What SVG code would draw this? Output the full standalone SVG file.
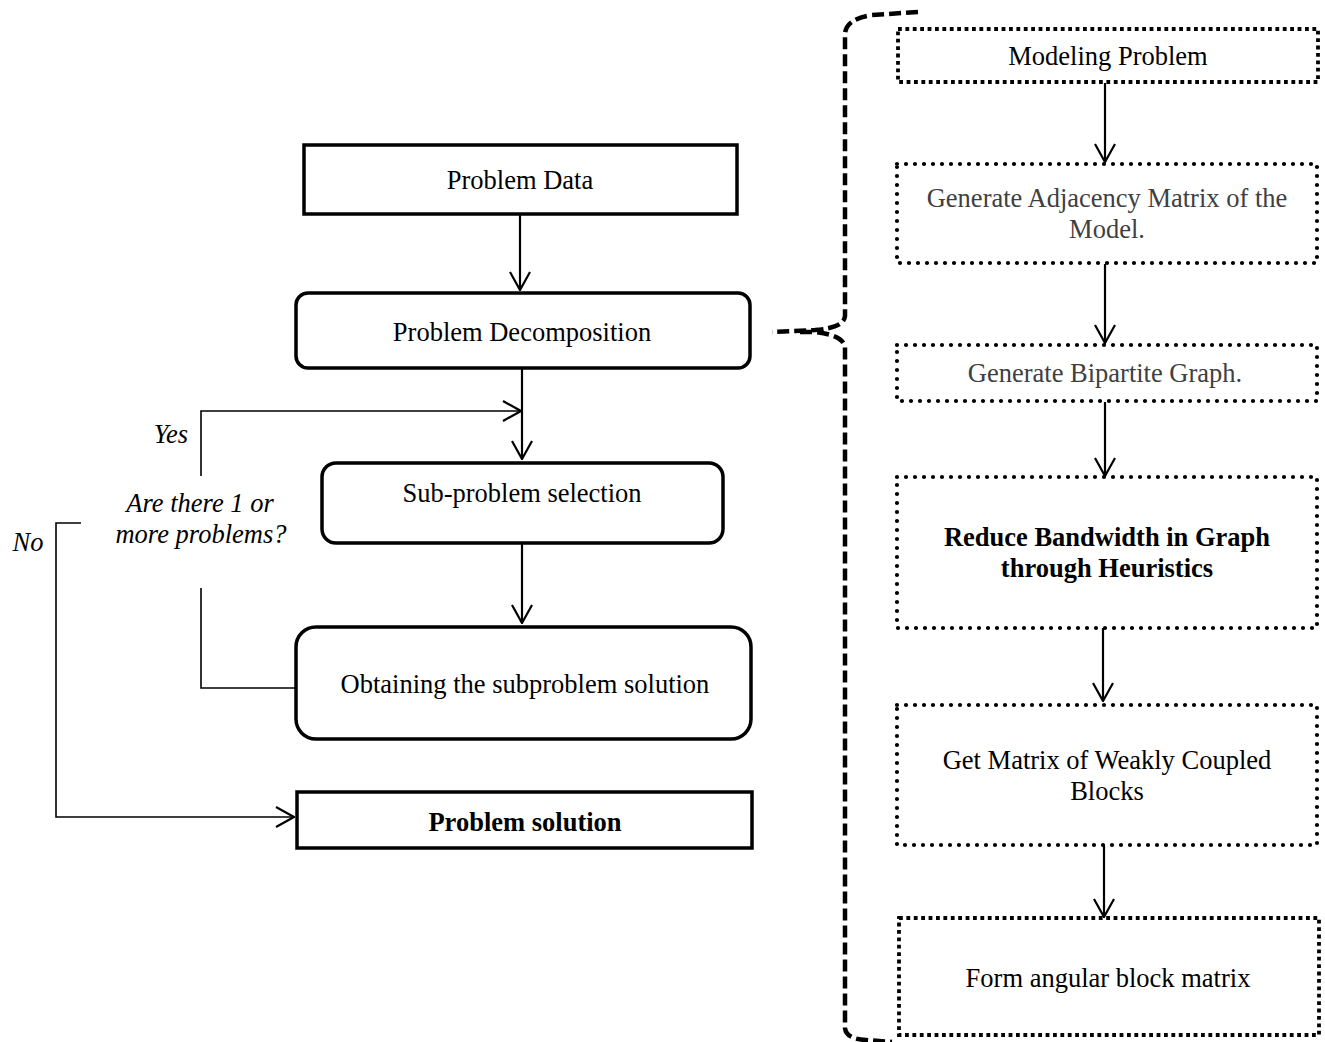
<svg xmlns="http://www.w3.org/2000/svg" width="1325" height="1042" viewBox="0 0 1325 1042">
<style>
text{font-family:"Liberation Serif","Times New Roman",serif;font-size:26.5px;fill:#000;text-anchor:middle}
.b{font-weight:bold}
.i{font-style:italic}
.g{fill:#404040}
.solid{fill:#fff;stroke:#000;stroke-width:3.5}
.sq{fill:#fff;stroke:#000;stroke-width:3.8;stroke-dasharray:3.8 3.6}
.rd{fill:#fff;stroke:#000;stroke-width:4.2;stroke-dasharray:0 9;stroke-linecap:round}
.c{fill:none;stroke:#000;stroke-width:2.2}
.t{fill:none;stroke:#000;stroke-width:1.6}
.brace{fill:none;stroke:#000;stroke-width:4.5;stroke-dasharray:12 5}
</style>
<defs>
<marker id="ah" markerUnits="userSpaceOnUse" viewBox="0 0 20 22" refX="19" refY="11" markerWidth="20" markerHeight="22" orient="auto">
<path d="M1,1 L19,11 L1,21" fill="none" stroke="#000" stroke-width="2.2"/>
</marker>
</defs>
<g id="connectors">
<line class="c" x1="520" y1="214" x2="520" y2="290" marker-end="url(#ah)"/>
<line class="c" x1="522" y1="368" x2="522" y2="459" marker-end="url(#ah)"/>
<polyline class="t" points="201,476 201,411 521,411" marker-end="url(#ah)"/>
<polyline class="t" points="201,588 201,688 296,688"/>
<line class="c" x1="522" y1="543" x2="522" y2="623" marker-end="url(#ah)"/>
<polyline class="t" points="81,523 56,523 56,817 294,817" marker-end="url(#ah)"/>
<line class="c" x1="1105" y1="83" x2="1105" y2="162" marker-end="url(#ah)"/>
<line class="c" x1="1105" y1="264" x2="1105" y2="343" marker-end="url(#ah)"/>
<line class="c" x1="1105" y1="402" x2="1105" y2="476" marker-end="url(#ah)"/>
<line class="c" x1="1103" y1="628" x2="1103" y2="701" marker-end="url(#ah)"/>
<line class="c" x1="1104" y1="845" x2="1104" y2="917" marker-end="url(#ah)"/>
<path class="brace" d="M918,12 L872,15 Q846,19 845,34 L845,316 Q844,328 815,330 L772,332"/>
<path class="brace" d="M800,332 L815,332 Q843,335 845,347 L845,1028 Q846,1039 866,1040 L892,1042"/>
</g>
<g id="n-problem-data">
<rect class="solid" x="304" y="145" width="433" height="69"/>
<text x="520" y="189">Problem Data</text>
</g>
<g id="n-decomposition">
<rect class="solid" x="296" y="293" width="454" height="75" rx="12"/>
<text x="522" y="341">Problem Decomposition</text>
</g>
<g id="n-subproblem">
<rect class="solid" x="322" y="463" width="401" height="80" rx="14"/>
<text x="522" y="502">Sub-problem selection</text>
</g>
<g id="n-obtaining">
<rect class="solid" x="296" y="627" width="455" height="112" rx="20"/>
<text x="525" y="693">Obtaining the subproblem solution</text>
</g>
<g id="n-solution">
<rect class="solid" x="297" y="792" width="455" height="56"/>
<text class="b" x="525" y="831">Problem solution</text>
</g>
<g id="n-decision">
<text class="i" x="171" y="443">Yes</text>
<text class="i" x="200" y="512">Are there 1 or</text>
<text class="i" x="201" y="543">more problems?</text>
<text class="i" x="28" y="551">No</text>
</g>
<g id="n-modeling">
<rect class="sq" x="898" y="29" width="420" height="53"/>
<text x="1108" y="65">Modeling Problem</text>
</g>
<g id="n-adjacency">
<rect class="rd" x="897" y="164" width="420" height="99"/>
<text class="g" x="1107" y="207">Generate Adjacency Matrix of the</text>
<text class="g" x="1107" y="238">Model.</text>
</g>
<g id="n-bipartite">
<rect class="rd" x="897" y="345" width="420" height="56"/>
<text class="g" x="1105" y="382">Generate Bipartite Graph.</text>
</g>
<g id="n-reduce">
<rect class="rd" x="897" y="477" width="420" height="151"/>
<text class="b" x="1107" y="546">Reduce Bandwidth in Graph</text>
<text class="b" x="1107" y="577">through Heuristics</text>
</g>
<g id="n-weakly">
<rect class="rd" x="897" y="705" width="420" height="140"/>
<text x="1107" y="769">Get Matrix of Weakly Coupled</text>
<text x="1107" y="800">Blocks</text>
</g>
<g id="n-angular">
<rect class="sq" x="899" y="918" width="420" height="117"/>
<text x="1108" y="987">Form angular block matrix</text>
</g>
</svg>
